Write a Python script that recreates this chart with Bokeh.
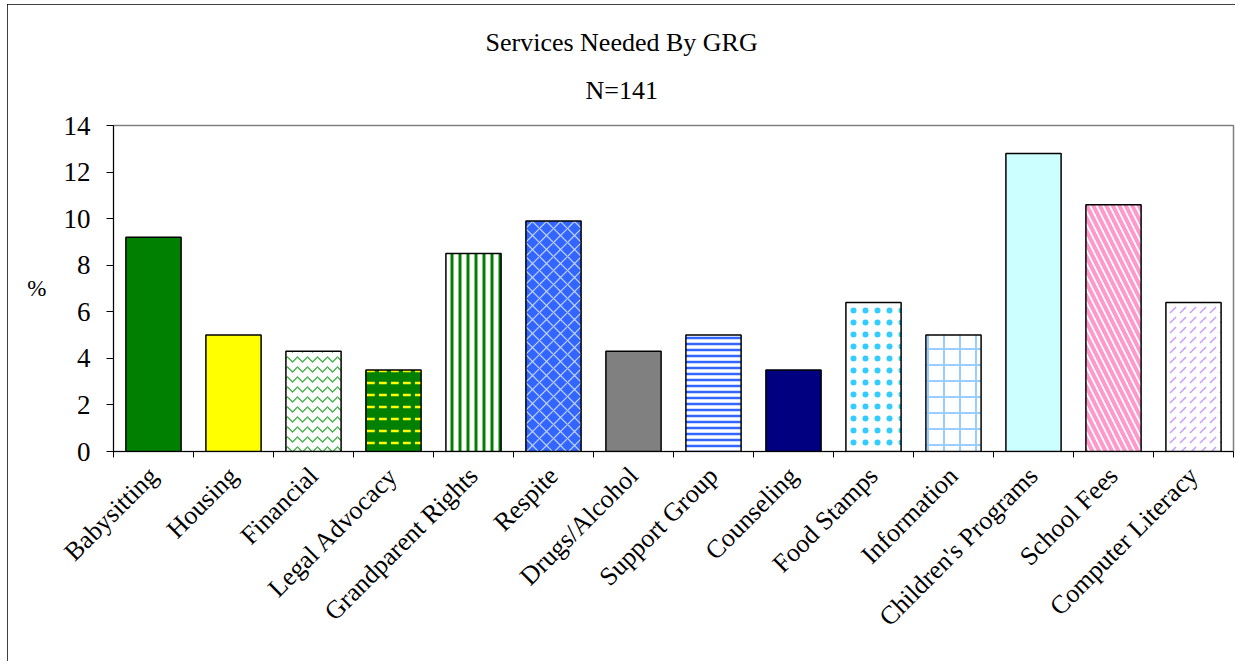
from math import pi

from bokeh.embed import file_html
from bokeh.models import (ColumnDataSource, FixedTicker, LinearAxis, Range1d,
                          Title)
from bokeh.plotting import figure
from bokeh.resources import INLINE

# --- data -------------------------------------------------------------
services = ["Babysitting", "Housing", "Financial", "Legal Advocacy",
            "Grandparent Rights", "Respite", "Drugs/Alcohol", "Support Group",
            "Counseling", "Food Stamps", "Information", "Children's Programs",
            "School Fees", "Computer Literacy"]
percent = [9.2, 5.0, 4.3, 3.5, 8.5, 9.9, 4.3, 5.0, 3.5, 6.4, 5.0, 12.8, 10.6, 6.4]
y_ticks = [0, 2, 4, 6, 8, 10, 12, 14]

# --- bar styling ------------------------------------------------------
fills = ["#008000", "#FFFF00", "#FFFFFF", "#008000", "#FFFFFF", "#3366FF",
         "#808080", "#FFFFFF", "#000080", "#FFFFFF", "#FFFFFF", "#CCFFFF",
         "#FFFFFF", "#FFFFFF"]
hatches = [" ", " ", "horizontal_wave", "horizontal_dash", "vertical_line",
           "diagonal_cross", " ", "horizontal_line", " ", "dot", "cross",
           " ", "left_diagonal_line", "right_diagonal_dash"]
hatch_colors = ["#000000", "#000000", "#4CAF50", "#FFFF00", "#008000",
                "#C8D8FF", "#000000", "#3366FF", "#000000", "#33CCFF",
                "#99CCFF", "#000000", "#FF99CC", "#CC99FF"]
hatch_scales = [8, 8, 10, 12, 8, 14, 8, 6, 8, 12, 16, 8, 13, 10]
hatch_weights = [1, 1, 1.5, 2.5, 3, 1.2, 1, 2.5, 1, 3, 2, 1, 4, 1.5]

FONT = "Liberation Serif"
n = len(services)
centers = [i + 0.5 for i in range(n)]

source = ColumnDataSource(dict(
    x=centers, service=services, pct=percent, fill=fills, hatch=hatches,
    hcolor=hatch_colors, hscale=hatch_scales, hweight=hatch_weights))

p = figure(x_range=Range1d(0, n), y_range=Range1d(0, 14),
           width=1228, height=659, output_backend="svg",
           toolbar_location=None, x_axis_type=None, y_axis_type=None,
           min_border_left=106, min_border_right=2,
           min_border_top=121, min_border_bottom=212)
# chart border around the whole canvas (open at the bottom)
p.margin = (4, 0, 0, 7)
p.styles = {"outline": "2px solid black", "outline-offset": "-2px",
            "clip-path": "inset(0px 0px 2px 0px)"}
p.background_fill_color = "white"
p.border_fill_color = "white"
p.outline_line_color = "#808080"
p.outline_line_width = 1.5

# two-line chart title, centred on the whole chart
p.add_layout(Title(text="N=141", align="left", offset=472,
                   vertical_align="top", text_font=FONT,
                   text_font_size="26px", text_font_style="normal",
                   text_color="black", standoff=38), "above")
p.add_layout(Title(text="Services Needed By GRG", align="left", offset=372,
                   text_font=FONT, text_font_size="26px",
                   text_font_style="normal", text_color="black",
                   standoff=0), "above")

# y axis with horizontal "%" label
yaxis = LinearAxis(ticker=FixedTicker(ticks=y_ticks), axis_label="%",
                   axis_label_orientation="horizontal",
                   axis_label_text_font=FONT, axis_label_text_font_style="normal",
                   axis_label_text_font_size="23px", axis_label_text_color="black",
                   axis_label_standoff=14,
                   major_label_text_font=FONT, major_label_text_font_size="27px",
                   major_label_text_color="black",
                   major_label_standoff=16, major_tick_out=7, major_tick_in=0,
                   minor_tick_out=0, minor_tick_in=0,
                   axis_line_color="black", major_tick_line_color="black")
p.add_layout(yaxis, "left")

# tick marks on the boundaries between categories
edge_axis = LinearAxis(ticker=FixedTicker(ticks=list(range(n + 1))),
                       major_label_overrides={i: "" for i in range(n + 1)},
                       major_label_text_font_size="0px", major_label_standoff=0,
                       major_tick_out=6, major_tick_in=0,
                       minor_tick_out=0, minor_tick_in=0,
                       axis_line_color="black", major_tick_line_color="black")
p.add_layout(edge_axis, "below")

# rotated category names at the category centres
cat_axis = LinearAxis(ticker=FixedTicker(ticks=centers),
                      major_label_overrides={c: s for c, s in zip(centers, services)},
                      axis_line_color=None, major_tick_line_color=None,
                      minor_tick_line_color=None,
                      major_label_orientation=pi / 4,
                      major_label_standoff=8,
                      major_label_text_font=FONT,
                      major_label_text_font_size="26px",
                      major_label_text_color="black")
p.add_layout(cat_axis, "below")

p.ygrid.ticker = FixedTicker(ticks=[2, 4, 6, 8, 10, 12])
p.ygrid.grid_line_color = "black"
p.ygrid.grid_line_width = 1
p.xgrid.grid_line_color = None

p.vbar(x="x", top="pct", width=0.69, source=source,
       fill_color="fill", line_color="black", line_width=1.5,
       hatch_pattern="hatch", hatch_color="hcolor",
       hatch_scale="hscale", hatch_weight="hweight")

open("out.html", "w").write(file_html(p, INLINE))
